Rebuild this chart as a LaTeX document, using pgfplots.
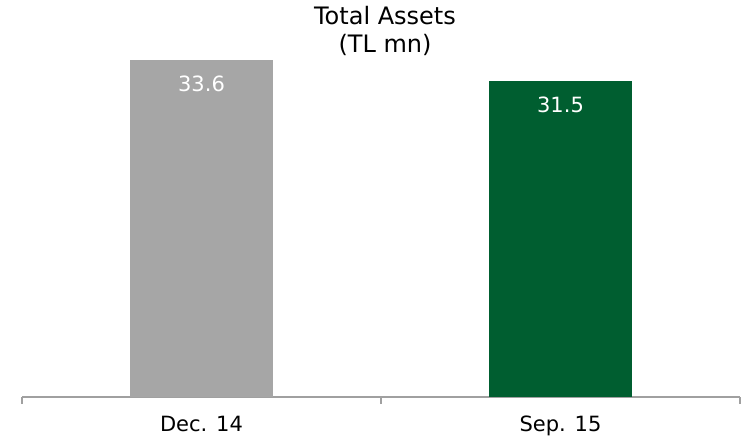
\documentclass[border=0pt]{standalone}
\usepackage{pgfplots}
\pgfplotsset{compat=1.18}
\usepackage{fontspec}
\setmainfont{DejaVu Sans}
\definecolor{bargray}{HTML}{A6A6A6}
\definecolor{bargreen}{HTML}{005E30}
\definecolor{axgray}{HTML}{A0A0A0}
\begin{document}
\begin{tikzpicture}[x=1pt,y=1pt]
\useasboundingbox (0,0) rectangle (742,440);
\begin{axis}[
  at={(22pt,43pt)}, anchor=origin,
  scale only axis, width=718pt, height=380pt,
  xmin=0, xmax=2, ymin=0, ymax=37.9,
  axis x line*=bottom, axis y line=none,
  x axis line style={draw=axgray, line width=1.3pt, -},
  xtick={0.5,1.5}, xticklabels={Dec. 14, Sep. 15},
  major x tick style={draw=none},
  minor xtick={0,1,2},
  minor x tick style={draw=axgray, line width=1.3pt},
  xtick align=outside,
  minor tick length=7pt,
  ytick=\empty,
  ticklabel style={font=\fontsize{21}{24}\selectfont, text=black},
  xticklabel style={yshift=-11pt},
  ybar, bar width=0.4, bar shift=0pt,
  nodes near coords,
  nodes near coords style={anchor=north, yshift=-12pt, text=white, font=\fontsize{21}{24}\selectfont, /pgf/number format/fixed, /pgf/number format/precision=1, /pgf/number format/fixed zerofill},
  /pgf/number format/assume math mode=true,
  clip=false,
]
\addplot[fill=bargray, draw=none] coordinates {(0.5,33.6)};
\addplot[fill=bargreen, draw=none] coordinates {(1.5,31.5)};
\end{axis}
\node[align=center, font=\fontsize{24}{28}\selectfont, anchor=center] at (385,409) {Total Assets\\(TL mn)};
\end{tikzpicture}
\end{document}
